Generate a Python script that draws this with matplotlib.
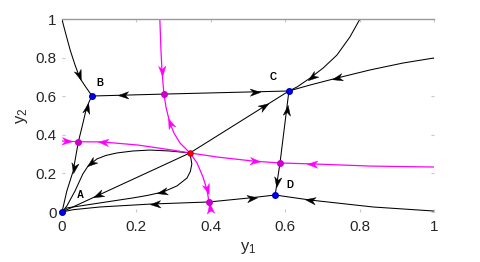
import matplotlib.pyplot as plt
import numpy as np
from matplotlib.markers import MarkerStyle
from matplotlib.path import Path
from matplotlib.transforms import Affine2D

plt.rcParams['font.family'] = ['Liberation Sans', 'DejaVu Sans']

# equilibria
stable_x = [0.0, 0.081, 0.610, 0.573]
stable_y = [0.0, 0.601, 0.627, 0.088]
saddle_x = [0.344]
saddle_y = [0.306]
edge_x = [0.044, 0.274, 0.395, 0.586]
edge_y = [0.364, 0.611, 0.052, 0.254]
names = ["A", "B", "C", "D"]
name_x = [0.048, 0.102, 0.567, 0.612]
name_y = [0.088, 0.668, 0.700, 0.140]

ticks = [0, 0.2, 0.4, 0.6, 0.8, 1]
tick_labels = ["0", "0.2", "0.4", "0.6", "0.8", "1"]

# black trajectories
top_B_x = [0.0, 0.003, 0.011, 0.022, 0.035, 0.048, 0.062, 0.075, 0.081]
top_B_y = [1.0, 0.975, 0.917, 0.839, 0.762, 0.694, 0.653, 0.617, 0.601]
B_C_x = [0.081, 0.274, 0.610]
B_C_y = [0.601, 0.611, 0.627]
A_B_x = [0.0, 0.013, 0.030, 0.044, 0.055, 0.066, 0.075, 0.081]
A_B_y = [0.0, 0.109, 0.212, 0.364, 0.450, 0.540, 0.580, 0.601]
up_x = [0.344, 0.290, 0.237, 0.190, 0.148, 0.118, 0.094, 0.070, 0.056, 0.035, 0.013, 0.0]
up_y = [0.306, 0.316, 0.321, 0.316, 0.306, 0.293, 0.275, 0.238, 0.197, 0.109, 0.031, 0.0]
diag_x = [0.0, 0.344, 0.610]
diag_y = [0.0, 0.306, 0.627]
low_x = [0.344, 0.349, 0.345, 0.336, 0.309, 0.272, 0.230, 0.191, 0.102, 0.013, 0.0]
low_y = [0.306, 0.249, 0.210, 0.176, 0.135, 0.104, 0.086, 0.073, 0.047, 0.021, 0.0]
bot_x = [0.0, 0.030, 0.102, 0.237, 0.395, 0.505, 0.573, 0.667, 0.836, 1.0]
bot_y = [0.0, 0.012, 0.026, 0.041, 0.052, 0.073, 0.088, 0.062, 0.026, 0.005]
D_C_x = [0.573, 0.586, 0.610]
D_C_y = [0.088, 0.254, 0.627]
topC_x = [0.801, 0.774, 0.739, 0.702, 0.667, 0.632, 0.610]
topC_y = [1.0, 0.907, 0.813, 0.746, 0.694, 0.648, 0.627]
rightC_x = [1.0, 0.917, 0.828, 0.739, 0.667, 0.610]
rightC_y = [0.798, 0.772, 0.736, 0.694, 0.658, 0.627]

# magenta separatrices
m_top_x = [0.263, 0.266, 0.269, 0.274, 0.280, 0.290, 0.301, 0.317, 0.344]
m_top_y = [1.0, 0.839, 0.725, 0.611, 0.539, 0.461, 0.409, 0.358, 0.306]
m_bot_x = [0.344, 0.363, 0.379, 0.390, 0.395, 0.398]
m_bot_y = [0.306, 0.254, 0.181, 0.114, 0.052, 0.0]
m_hor_x = [0.0, 0.044, 0.108, 0.204, 0.296, 0.344, 0.417, 0.513, 0.586, 0.675, 0.828, 1.0]
m_hor_y = [0.368, 0.364, 0.363, 0.347, 0.321, 0.306, 0.285, 0.264, 0.254, 0.249, 0.238, 0.233]

black = {"top_B": (top_B_x, top_B_y), "B_C": (B_C_x, B_C_y), "A_B": (A_B_x, A_B_y),
         "up": (up_x, up_y), "diag": (diag_x, diag_y), "low": (low_x, low_y),
         "bot": (bot_x, bot_y), "D_C": (D_C_x, D_C_y), "topC": (topC_x, topC_y),
         "rightC": (rightC_x, rightC_y)}
magenta = {"m_top": (m_top_x, m_top_y), "m_bot": (m_bot_x, m_bot_y),
           "m_hor": (m_hor_x, m_hor_y)}

# arrow heads: curve, approximate place, direction along the curve
arrow_curve = ["top_B", "B_C", "B_C", "A_B", "A_B", "up", "diag", "diag", "low",
               "bot", "bot", "bot", "D_C", "D_C", "topC", "rightC",
               "m_top", "m_top", "m_bot", "m_bot", "m_hor", "m_hor", "m_hor", "m_hor"]
arrow_x = [0.045, 0.164, 0.519, 0.066, 0.030, 0.080, 0.097, 0.540, 0.268,
           0.250, 0.510, 0.667, 0.600, 0.580, 0.675, 0.739,
           0.269, 0.293, 0.390, 0.398, 0.013, 0.110, 0.519, 0.672]
arrow_y = [0.710, 0.605, 0.620, 0.540, 0.228, 0.250, 0.083, 0.560, 0.109,
           0.047, 0.073, 0.062, 0.530, 0.155, 0.695, 0.700,
           0.730, 0.461, 0.120, 0.020, 0.366, 0.363, 0.264, 0.249]
arrow_dir = [1, -1, 1, 1, -1, 1, -1, 1, 1,
             -1, 1, -1, 1, -1, 1, 1,
             1, -1, 1, -1, 1, -1, 1, -1]

fig = plt.figure(figsize=(4.8, 2.62), dpi=100)
ax = fig.add_axes([62 / 480, 50 / 262, 372 / 480, 193 / 262])
ax.set_xlim(0, 1)
ax.set_ylim(0, 1)

for cx, cy in black.values():
    ax.plot(cx, cy, color="black", lw=0.75, zorder=2)
for cx, cy in magenta.values():
    ax.plot(cx, cy, color="#ff00ff", lw=0.9, zorder=2)

head = Path([(1, 0), (-1, 0.7), (-0.4, 0), (-1, -0.7), (1, 0)],
            [Path.MOVETO, Path.LINETO, Path.LINETO, Path.LINETO, Path.CLOSEPOLY])


def add_arrow(cx, cy, px, py, d, color):
    pts = ax.transData.transform(np.column_stack([cx, cy]))
    p = ax.transData.transform((px, py))
    best = None
    for i in range(len(pts) - 1):
        a, b = pts[i], pts[i + 1]
        ab = b - a
        t = np.clip(np.dot(p - a, ab) / np.dot(ab, ab), 0, 1)
        q = a + t * ab
        dist = np.hypot(*(p - q))
        if best is None or dist < best[0]:
            best = (dist, q, ab)
    _, q, ab = best
    ang = np.degrees(np.arctan2(ab[1], ab[0])) + (0 if d > 0 else 180)
    qx, qy = ax.transData.inverted().transform(q)
    m = MarkerStyle(head, transform=Affine2D().rotate_deg(ang))
    ax.plot(qx, qy, marker=m, ms=7.5, color=color, mec=color, mew=0.3,
            clip_on=False, zorder=4)


for name, px, py, d in zip(arrow_curve, arrow_x, arrow_y, arrow_dir):
    if name in black:
        add_arrow(*black[name], px, py, d, "black")
    else:
        add_arrow(*magenta[name], px, py, d, "#ff00ff")

ax.plot(edge_x, edge_y, "o", color="#cc00cc", ms=4, mec="#cc00cc", zorder=5, clip_on=False)
ax.plot(saddle_x, saddle_y, "o", color="red", ms=4, mec="#aa0000", mew=0.6, zorder=5)
ax.plot(stable_x, stable_y, "o", color="blue", ms=4, mec="#0000aa", zorder=5, clip_on=False)

for n, x, y in zip(names, name_x, name_y):
    ax.text(x, y, n, fontsize=7, fontweight="bold", ha="center", va="center")

ax.set_xticks(ticks)
ax.set_xticklabels(tick_labels)
ax.set_yticks(ticks)
ax.set_yticklabels(tick_labels)
ax.tick_params(direction="in", length=2.5, color="#c8c8c8", labelsize=11,
               labelcolor="#262626", top=True, right=True, pad=4)
ax.tick_params(axis="x", pad=6)
for s in ["left", "right", "bottom"]:
    ax.spines[s].set_visible(False)
ax.spines["top"].set_color("#999999")
ax.spines["top"].set_linewidth(1)

ax.set_xlabel("$\\mathregular{y_1}$", fontsize=12, color="#262626", labelpad=4)
ax.set_ylabel("$\\mathregular{y_2}$", fontsize=12, color="#262626", labelpad=4)

fig.savefig("out.png", dpi=100)
